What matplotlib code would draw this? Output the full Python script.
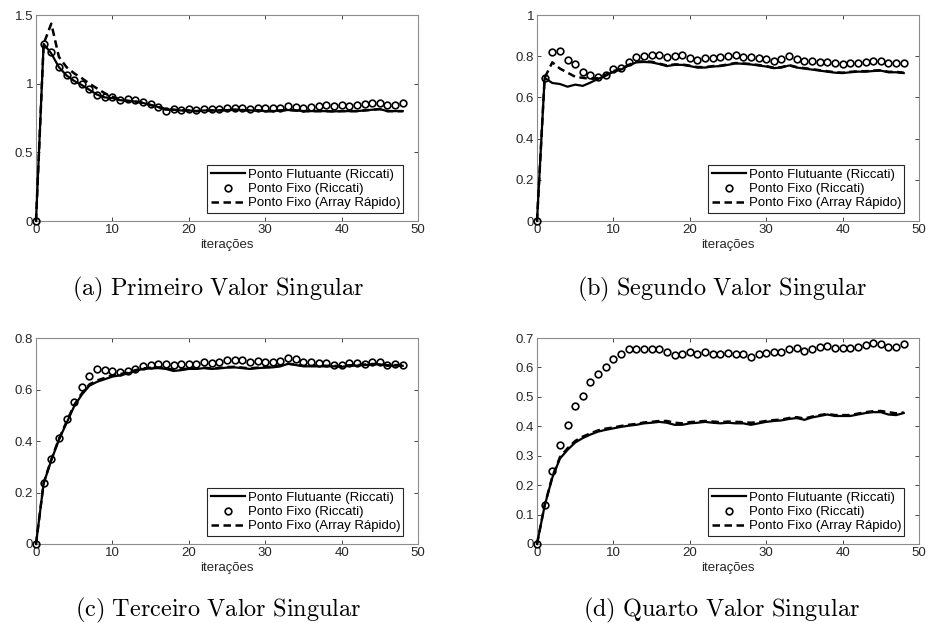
import matplotlib
matplotlib.use("Agg")
import matplotlib.pyplot as plt

iters = list(range(49))

# (a) Primeiro Valor Singular
a_float = [0, 1.29, 1.22, 1.12, 1.06, 1.02, 0.99, 0.955, 0.92, 0.90, 0.895, 0.88, 0.875, 0.87,
           0.86, 0.845, 0.83, 0.81, 0.81, 0.805, 0.805, 0.80, 0.805, 0.805, 0.805, 0.808, 0.81,
           0.808, 0.805, 0.805, 0.80, 0.80, 0.805, 0.808, 0.805, 0.80, 0.80, 0.80, 0.80, 0.798,
           0.80, 0.80, 0.80, 0.805, 0.81, 0.815, 0.80, 0.80, 0.80]
a_fixed = [0, 1.29, 1.227, 1.12, 1.06, 1.03, 0.995, 0.96, 0.92, 0.905, 0.905, 0.88, 0.885, 0.88,
           0.866, 0.85, 0.832, 0.80, 0.815, 0.808, 0.813, 0.806, 0.815, 0.813, 0.815, 0.825, 0.825,
           0.82, 0.815, 0.82, 0.82, 0.82, 0.825, 0.835, 0.83, 0.823, 0.832, 0.837, 0.847, 0.837,
           0.842, 0.837, 0.842, 0.85, 0.86, 0.859, 0.842, 0.845, 0.857]
a_array = [0, 1.29, 1.437, 1.195, 1.12, 1.075, 1.04, 1.0, 0.965, 0.93, 0.905, 0.885, 0.875, 0.87,
           0.86, 0.845, 0.83, 0.815, 0.81, 0.805, 0.805, 0.80, 0.805, 0.805, 0.805, 0.808, 0.81,
           0.808, 0.805, 0.805, 0.80, 0.80, 0.805, 0.808, 0.805, 0.80, 0.80, 0.80, 0.80, 0.798,
           0.80, 0.80, 0.80, 0.805, 0.81, 0.815, 0.80, 0.80, 0.80]

# (b) Segundo Valor Singular
b_float = [0, 0.695, 0.67, 0.665, 0.652, 0.662, 0.656, 0.672, 0.69, 0.705, 0.725, 0.735, 0.755,
           0.77, 0.772, 0.77, 0.762, 0.752, 0.758, 0.758, 0.752, 0.745, 0.745, 0.75, 0.752, 0.758,
           0.765, 0.763, 0.76, 0.755, 0.75, 0.742, 0.745, 0.755, 0.745, 0.74, 0.735, 0.73, 0.725,
           0.72, 0.718, 0.722, 0.725, 0.725, 0.728, 0.73, 0.722, 0.722, 0.718]
b_fixed = [0, 0.695, 0.818, 0.824, 0.78, 0.761, 0.723, 0.71, 0.697, 0.711, 0.74, 0.745, 0.774,
           0.794, 0.80, 0.808, 0.805, 0.797, 0.802, 0.805, 0.789, 0.782, 0.792, 0.792, 0.795, 0.80,
           0.808, 0.795, 0.795, 0.79, 0.784, 0.779, 0.784, 0.80, 0.787, 0.779, 0.776, 0.771, 0.771,
           0.765, 0.761, 0.768, 0.769, 0.771, 0.779, 0.779, 0.765, 0.769, 0.768]
b_array = [0, 0.695, 0.77, 0.74, 0.72, 0.70, 0.695, 0.69, 0.693, 0.71, 0.728, 0.738, 0.758,
           0.773, 0.775, 0.773, 0.764, 0.755, 0.76, 0.76, 0.754, 0.747, 0.747, 0.752, 0.754, 0.76,
           0.767, 0.765, 0.762, 0.757, 0.752, 0.744, 0.747, 0.757, 0.747, 0.742, 0.737, 0.732, 0.727,
           0.722, 0.72, 0.724, 0.727, 0.727, 0.73, 0.732, 0.724, 0.724, 0.72]

# (c) Terceiro Valor Singular
c_float = [0, 0.235, 0.325, 0.405, 0.47, 0.535, 0.58, 0.615, 0.63, 0.64, 0.65, 0.655, 0.662,
           0.672, 0.68, 0.682, 0.683, 0.68, 0.672, 0.675, 0.68, 0.68, 0.683, 0.68, 0.682, 0.685,
           0.686, 0.683, 0.68, 0.683, 0.685, 0.686, 0.69, 0.70, 0.695, 0.69, 0.69, 0.69, 0.69,
           0.69, 0.688, 0.692, 0.693, 0.695, 0.697, 0.698, 0.692, 0.693, 0.692]
c_fixed = [0, 0.237, 0.33, 0.413, 0.485, 0.553, 0.61, 0.652, 0.678, 0.676, 0.672, 0.668, 0.67,
           0.681, 0.693, 0.696, 0.70, 0.698, 0.695, 0.70, 0.699, 0.699, 0.708, 0.704, 0.708, 0.716,
           0.716, 0.713, 0.707, 0.711, 0.708, 0.707, 0.712, 0.724, 0.717, 0.708, 0.705, 0.704, 0.702,
           0.696, 0.694, 0.702, 0.702, 0.699, 0.705, 0.708, 0.695, 0.70, 0.695]
c_array = [0, 0.237, 0.328, 0.408, 0.475, 0.54, 0.585, 0.62, 0.635, 0.645, 0.655, 0.66, 0.665,
           0.675, 0.682, 0.684, 0.686, 0.683, 0.676, 0.678, 0.682, 0.682, 0.685, 0.682, 0.684, 0.687,
           0.688, 0.685, 0.682, 0.685, 0.687, 0.688, 0.692, 0.70, 0.697, 0.692, 0.692, 0.692, 0.692,
           0.692, 0.69, 0.694, 0.695, 0.697, 0.699, 0.70, 0.694, 0.695, 0.694]

# (d) Quarto Valor Singular
d_float = [0, 0.13, 0.225, 0.29, 0.32, 0.345, 0.36, 0.372, 0.382, 0.388, 0.393, 0.398, 0.402,
           0.405, 0.41, 0.412, 0.415, 0.412, 0.405, 0.405, 0.41, 0.412, 0.415, 0.412, 0.41, 0.412,
           0.41, 0.41, 0.405, 0.41, 0.415, 0.418, 0.42, 0.425, 0.428, 0.422, 0.43, 0.435, 0.44,
           0.435, 0.435, 0.435, 0.44, 0.445, 0.448, 0.448, 0.44, 0.438, 0.445]
d_fixed = [0, 0.134, 0.249, 0.337, 0.405, 0.468, 0.504, 0.549, 0.578, 0.603, 0.63, 0.644, 0.664,
           0.662, 0.662, 0.662, 0.662, 0.653, 0.641, 0.644, 0.652, 0.647, 0.654, 0.647, 0.644, 0.649,
           0.646, 0.647, 0.635, 0.647, 0.649, 0.653, 0.653, 0.663, 0.665, 0.655, 0.661, 0.669, 0.674,
           0.665, 0.666, 0.666, 0.669, 0.676, 0.682, 0.68, 0.671, 0.671, 0.678]
d_array = [0, 0.132, 0.228, 0.295, 0.325, 0.35, 0.365, 0.376, 0.386, 0.392, 0.396, 0.401, 0.405,
           0.408, 0.413, 0.415, 0.418, 0.418, 0.412, 0.41, 0.414, 0.416, 0.418, 0.416, 0.414, 0.416,
           0.415, 0.414, 0.412, 0.414, 0.418, 0.421, 0.423, 0.428, 0.431, 0.426, 0.433, 0.438, 0.442,
           0.438, 0.438, 0.438, 0.443, 0.448, 0.451, 0.452, 0.448, 0.444, 0.447]

labels = ["Ponto Flutuante (Riccati)", "Ponto Fixo (Riccati)", "Ponto Fixo (Array Rápido)"]
captions = ["(a)\\ Primeiro\\ Valor\\ Singular", "(b)\\ Segundo\\ Valor\\ Singular",
            "(c)\\ Terceiro\\ Valor\\ Singular", "(d)\\ Quarto\\ Valor\\ Singular"]
ylims = [(0, 1.5), (0, 1.0), (0, 0.8), (0, 0.7)]
yticks = [[0, 0.5, 1, 1.5], [0, 0.2, 0.4, 0.6, 0.8, 1], [0, 0.2, 0.4, 0.6, 0.8],
          [0, 0.1, 0.2, 0.3, 0.4, 0.5, 0.6, 0.7]]
xticks = [0, 10, 20, 30, 40, 50]

plt.rcParams['font.family'] = ['Liberation Sans', 'DejaVu Sans']
plt.rcParams['mathtext.fontset'] = 'cm'

fig = plt.figure(figsize=(9.30, 6.23), dpi=100)
W, H = 930, 623
positions = [(36, 15), (537, 15), (36, 338), (537, 338)]
axw, axh = 382, 206
caption_pos = [(218, 289), (722, 289), (218, 610), (722, 610)]

data = [(a_float, a_fixed, a_array), (b_float, b_fixed, b_array),
        (c_float, c_fixed, c_array), (d_float, d_fixed, d_array)]

tick_col = '#262626'
for i in range(4):
    x0, y0 = positions[i]
    ax = fig.add_axes([x0 / W, 1 - (y0 + axh) / H, axw / W, axh / H])
    fl, fx, ar = data[i]
    ax.plot(iters, fl, color='black', lw=1.6, label=labels[0], clip_on=False, zorder=3)
    ax.plot(iters, fx, linestyle='none', marker='o', markersize=4.8, markerfacecolor='none',
            markeredgecolor='black', markeredgewidth=1.2, label=labels[1], clip_on=False, zorder=4)
    ax.plot(iters, ar, color='black', lw=1.8, linestyle=(0, (3.0, 1.8)), label=labels[2],
            clip_on=False, zorder=3)
    ax.set_xlim(0, 50)
    ax.set_ylim(*ylims[i])
    ax.set_xticks(xticks)
    ax.set_yticks(yticks[i])
    ax.set_xticklabels([str(t) for t in xticks])
    ax.set_yticklabels([('%g' % t) for t in yticks[i]])
    ax.tick_params(direction='in', top=True, right=True, length=3, width=0.6,
                   labelsize=9.5, colors=tick_col, pad=2)
    for s in ax.spines.values():
        s.set_color('#8c8c8c')
        s.set_linewidth(0.8)
    ax.set_xlabel('iterações', fontsize=9.5, color=tick_col, labelpad=2)
    leg = ax.legend(loc='lower right', bbox_to_anchor=(0.962, 0.04), fontsize=9.5,
                    frameon=True, fancybox=False, edgecolor='#262626', framealpha=1,
                    handlelength=2.6, handletextpad=0.2, borderpad=0.25, labelspacing=0.15,
                    borderaxespad=0)
    leg.get_frame().set_linewidth(0.8)
    leg.set_zorder(5)
    cx, cy = caption_pos[i]
    fig.text(cx / W, 1 - cy / H, '$\\mathrm{' + captions[i] + '}$', fontsize=17.5,
             ha='center', va='center', color='black')

fig.savefig('out.png', dpi=100)
